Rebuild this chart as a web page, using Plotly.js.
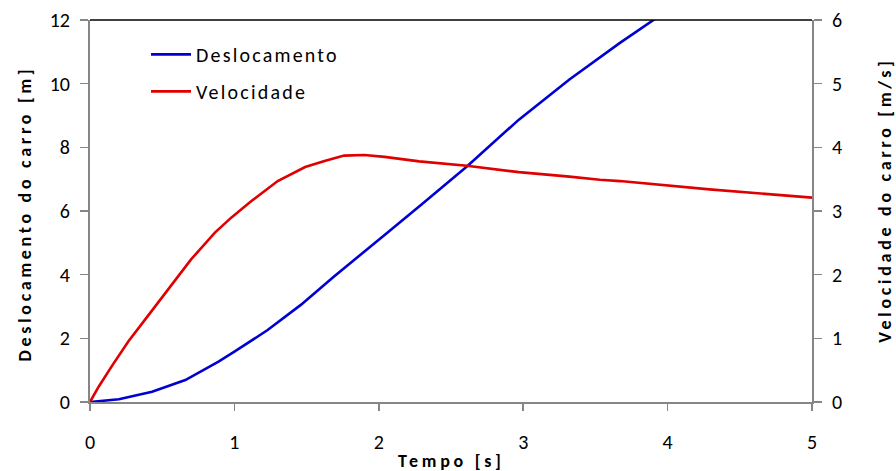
<!DOCTYPE html>
<html>
<head>
<meta charset="utf-8">
<script src="https://cdn.plot.ly/plotly-3.0.1.min.js"></script>
<style>
html,body{margin:0;padding:0;background:#fff}
#chart{width:896px;height:471px}
.annotation-text{letter-spacing:3.7px}
.legendtext{letter-spacing:2.2px}
</style>
</head>
<body>
<div id="chart"></div>
<script>
// Displacement series (left axis, m)
var tempoDesl = [0, 0.2, 0.43, 0.66, 0.89, 1.0, 1.23, 1.46, 1.69, 1.93, 2.04, 2.3, 2.61, 2.97, 3.32, 3.67, 3.92, 3.96];
var deslocamento = [0, 0.085, 0.32, 0.69, 1.27, 1.58, 2.26, 3.05, 3.94, 4.85, 5.25, 6.22, 7.40, 8.87, 10.13, 11.28, 12.03, 12.18];
// Velocity series (right axis, m/s)
var tempoVel = [0, 0.06, 0.15, 0.265, 0.38, 0.47, 0.59, 0.70, 0.865, 0.98, 1.12, 1.30, 1.49, 1.63, 1.76, 1.90, 2.04, 2.28, 2.61, 2.97, 3.32, 3.53, 3.67, 4.01, 4.29, 5.0];
var velocidade = [0, 0.24, 0.56, 0.95, 1.29, 1.56, 1.92, 2.24, 2.66, 2.90, 3.16, 3.47, 3.69, 3.79, 3.87, 3.88, 3.85, 3.78, 3.71, 3.61, 3.54, 3.49, 3.47, 3.40, 3.34, 3.21];
// Axis ticks / labels
var xTicks = [0, 1, 2, 3, 4, 5];
var yLeftTicks = [0, 2, 4, 6, 8, 10, 12];
var yRightTicks = [0, 1, 2, 3, 4, 5, 6];
var nomes = ["Deslocamento", "Velocidade"];
var titulos = {x: "Tempo [s]", yl: "Deslocamento do carro [m]", yr: "Velocidade do carro [m/s]"};

var FONT = "Carlito, Lato, 'Open Sans', sans-serif";
var gray = "#868686";

var traces = [
  {x: tempoDesl, y: deslocamento, name: nomes[0], type: "scatter", mode: "lines",
   line: {color: "#0000d2", width: 2.6}, yaxis: "y", legendgroup: "a"},
  {x: tempoVel, y: velocidade, name: nomes[1], type: "scatter", mode: "lines",
   line: {color: "#e00000", width: 2.6}, yaxis: "y2", legendgroup: "b"}
];

var axisCommon = {
  showgrid: false, zeroline: false, showline: true, linecolor: gray, linewidth: 2,
  ticks: "outside", ticklen: 8, tickwidth: 1.5, tickcolor: gray,
  tickfont: {family: FONT, size: 20, color: "#000"}
};

var layout = {
  width: 896, height: 471,
  margin: {l: 90, r: 84, t: 20, b: 69},
  paper_bgcolor: "#fff", plot_bgcolor: "#fff",
  font: {family: FONT, color: "#000"},
  showlegend: true,
  legend: {x: 0.0776, y: 0.961, xanchor: "left", yanchor: "top", bgcolor: "rgba(0,0,0,0)",
           font: {family: FONT, size: 20, color: "#000"}, traceorder: "grouped", tracegroupgap: 8,
           itemwidth: 40},
  xaxis: Object.assign({}, axisCommon, {range: [0, 5], tickvals: xTicks, ticklabelstandoff: 14, ticklen: 7}),
  yaxis: Object.assign({}, axisCommon, {range: [0, 12], tickvals: yLeftTicks, ticklabelstandoff: 6}),
  yaxis2: Object.assign({}, axisCommon, {range: [0, 6], tickvals: yRightTicks, overlaying: "y", side: "right", ticklabelstandoff: 6}),
  shapes: [
    {type: "line", xref: "paper", yref: "paper", x0: 0, x1: 1, y0: 1, y1: 1, line: {color: "#000", width: 1.5}}
  ],
  annotations: [
    {text: "<b>" + titulos.x + "</b>", xref: "paper", yref: "paper", x: 0.5, y: -0.1545, xanchor: "center", yanchor: "middle",
     showarrow: false, font: {family: FONT, size: 18}},
    {text: "<b>" + titulos.yl + "</b>", xref: "paper", yref: "paper", x: -0.090, y: 0.4935, textangle: -90,
     xanchor: "center", yanchor: "middle", showarrow: false, font: {family: FONT, size: 18}},
    {text: "<b>" + titulos.yr + "</b>", xref: "paper", yref: "paper", x: 1.101, y: 0.529, textangle: -90,
     xanchor: "center", yanchor: "middle", showarrow: false, font: {family: FONT, size: 18}}
  ]
};

Plotly.newPlot("chart", traces, layout, {displayModeBar: false, staticPlot: true});
</script>
</body>
</html>
